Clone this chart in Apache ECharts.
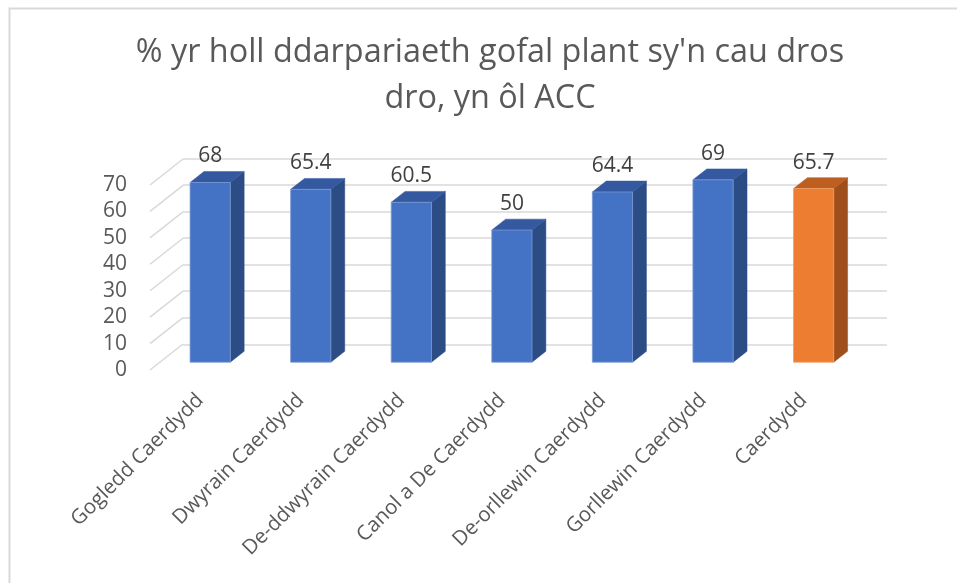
<!DOCTYPE html>
<html>
<head>
<meta charset="utf-8">
<script src="https://cdn.jsdelivr.net/npm/echarts@6/dist/echarts.min.js"></script>
<style>
  html, body { margin: 0; padding: 0; background: #fff; }
  #chart { width: 957px; height: 583px; }
</style>
</head>
<body>
<div id="chart"></div>
<script>
// data
var categories = ['Gogledd Caerdydd', 'Dwyrain Caerdydd', 'De-ddwyrain Caerdydd', 'Canol a De Caerdydd',
    'De-orllewin Caerdydd', 'Gorllewin Caerdydd', 'Caerdydd'];
var values = [68, 65.4, 60.5, 50, 64.4, 69, 65.7];
var yTicks = [0, 10, 20, 30, 40, 50, 60, 70];
var titleText = "% yr holl ddarpariaeth gofal plant sy'n cau dros\ndro, yn ôl ACC";

// 3d look: depth of the floor and of the bars, in pixels
var DX = 33, DY = -26;          // side wall depth
var BAR_OFF = 0.3, BAR_DEPTH = 0.42;
var FONT = '"Open Sans", "DejaVu Sans", sans-serif';

var chart = echarts.init(document.getElementById('chart'));

function barColors(name) {
    if (name === 'Caerdydd') {
        return { front: '#ED7D31', side: '#9E4F1B', top: '#BC5F21', edge: '#F2A06A' };
    }
    return { front: '#4472C4', side: '#2C4C85', top: '#3559A0', edge: '#7A9BD6' };
}

function renderBar(params, api) {
    var i = api.value(0);
    var v = api.value(1);
    var base = api.coord([i, 0]);
    var head = api.coord([i, v]);
    var band = api.size([1, 0])[0];
    var w = band * 0.4;
    var ox = DX * BAR_OFF, oy = DY * BAR_OFF;
    var dx = DX * BAR_DEPTH, dy = DY * BAR_DEPTH;
    var xl = base[0] + ox - w / 2, xr = base[0] + ox + w / 2;
    var yb = base[1] + oy, yt = head[1] + oy;
    var c = barColors(categories[i]);
    return {
        type: 'group',
        children: [
            { type: 'polygon', shape: { points: [[xr, yt], [xr + dx, yt + dy], [xr + dx, yb + dy], [xr, yb]] },
              style: { fill: c.side, stroke: c.side, lineWidth: 0.5 } },
            { type: 'polygon', shape: { points: [[xl, yt], [xl + dx, yt + dy], [xr + dx, yt + dy], [xr, yt]] },
              style: { fill: c.top, stroke: c.top, lineWidth: 0.5 } },
            { type: 'rect', shape: { x: xl, y: yt, width: w, height: yb - yt },
              style: { fill: c.front, stroke: c.edge, lineWidth: 0.8 } },
            { type: 'text', x: (xl + xr) / 2, y: yt - 26,
              style: { text: String(v), fill: '#404040', font: '21px ' + FONT, align: 'center', verticalAlign: 'middle' } }
        ]
    };
}

function renderSideLine(params, api) {
    var v = api.value(0);
    var p = api.coord([0, v]);
    var x0 = params.coordSys.x;
    return {
        type: 'line',
        shape: { x1: x0, y1: p[1], x2: x0 + DX, y2: p[1] + DY },
        style: { stroke: '#d9d9d9', lineWidth: 1.5 }
    };
}

var option = {
    backgroundColor: '#fff',
    animation: false,
    title: {
        text: titleText,
        left: 490,
        textAlign: 'center',
        top: 30,
        padding: 0,
        textStyle: { fontFamily: FONT, fontSize: 32.4, fontWeight: 'normal', color: '#595959', lineHeight: 46 }
    },
    graphic: [{
        type: 'rect', left: 7, top: 6, shape: { width: 1000, height: 1000 },
        style: { fill: 'none', stroke: '#d9d9d9', lineWidth: 2 }, silent: true
    }],
    grid: [
        // back wall
        { left: 183, right: 70, top: 158.3, height: 186 },
        // front plane
        { left: 150, right: 103, top: 185, height: 185 }
    ],
    xAxis: [
        { gridIndex: 0, type: 'category', data: categories, show: false },
        {
            gridIndex: 1, type: 'category', data: categories,
            axisLine: { show: false }, axisTick: { show: false },
            axisLabel: { rotate: 45, margin: 27, interval: 0, fontFamily: FONT, fontSize: 20.5, color: '#595959' }
        }
    ],
    yAxis: [
        {
            gridIndex: 0, type: 'value', min: 0, max: 70, interval: 10,
            axisLabel: { show: false }, axisLine: { show: false }, axisTick: { show: false },
            splitLine: { show: true, lineStyle: { color: '#d9d9d9', width: 1.5 } }
        },
        {
            gridIndex: 1, type: 'value', min: 0, max: 70, interval: 10,
            axisLine: { show: false }, axisTick: { show: false }, splitLine: { show: false },
            axisLabel: { margin: 23, fontFamily: FONT, fontSize: 21, color: '#595959' }
        }
    ],
    series: [
        {
            type: 'custom', xAxisIndex: 1, yAxisIndex: 1,
            renderItem: renderSideLine,
            data: yTicks.map(function (t) { return [t]; }),
            encode: { y: 0 },
            silent: true, z: 1
        },
        {
            type: 'custom', xAxisIndex: 1, yAxisIndex: 1,
            renderItem: renderBar,
            data: values.map(function (v, i) { return [i, v]; }),
            encode: { x: 0, y: 1 },
            z: 3
        }
    ]
};

chart.setOption(option);
</script>
</body>
</html>
